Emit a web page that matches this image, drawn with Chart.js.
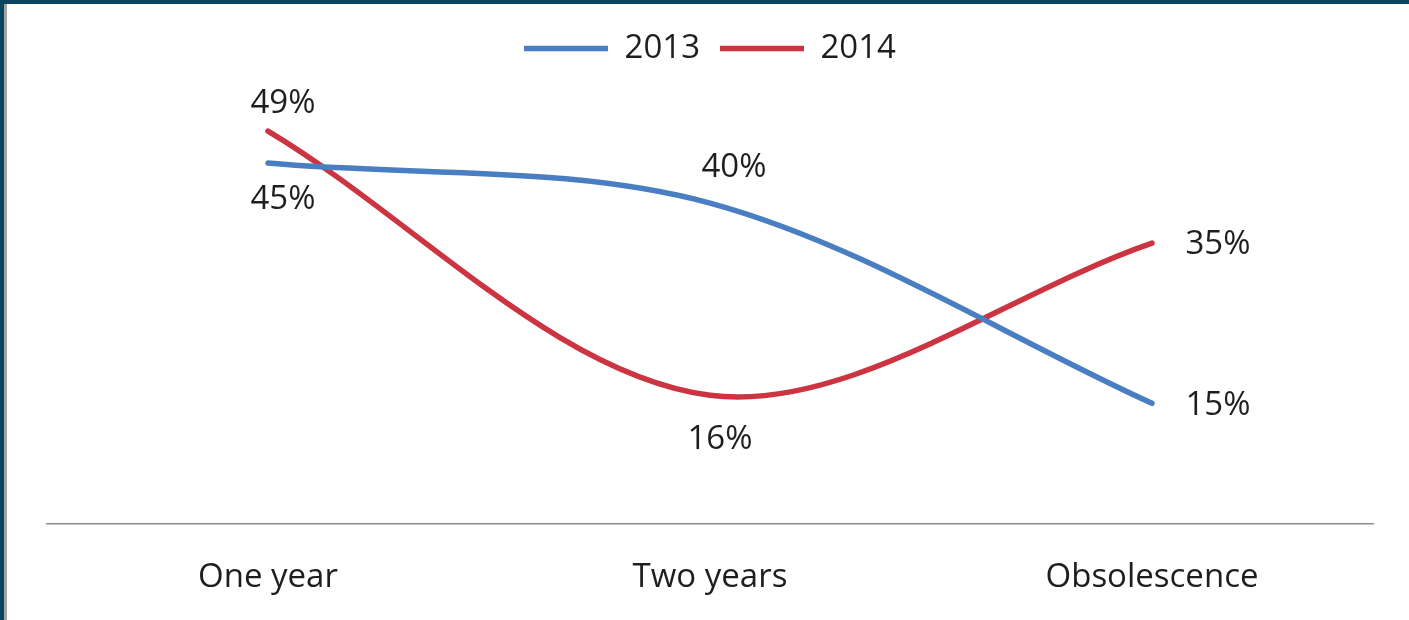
<!DOCTYPE html>
<html>
<head>
<meta charset="utf-8">
<script src="https://cdn.jsdelivr.net/npm/chart.js@4"></script>
<style>
  html, body { margin: 0; padding: 0; background: #fff; overflow: hidden; }
  #frame { width: 1405px; height: 616px; border-top: 4px solid #0b4461; border-left: 4px solid #0b4461; }
  #inner { width: 1402px; height: 616px; border-left: 3px solid #a3a3a3; }
  #wrap { width: 1402px; height: 616px; position: relative; }
</style>
</head>
<body>
<div id="frame"><div id="inner"><div id="wrap"><canvas id="chart"></canvas></div></div></div>
<script>
// categories and series values (percent)
const categories = ['One year', 'Two years', 'Obsolescence'];
const seriesNames = ['2013', '2014'];
const values2013 = [45, 40, 15];
const values2014 = [49, 16, 35];

// where each value label sits, relative to its point (px)
const labelOffsets = [
  [[15, 37], [24, -36], [66, 2]],
  [[15, -27], [10, 44], [66, 1]]
];

const FONT = "'Open Sans', sans-serif";
const el = id => document.getElementById(id);

// draws the % labels next to the points
const valueLabels = {
  id: 'valueLabels',
  afterDatasetsDraw(chart) {
    const ctx = chart.ctx;
    ctx.save();
    ctx.font = `33px ${FONT}`;
    ctx.fillStyle = '#1e1e1e';
    ctx.textAlign = 'center';
    ctx.textBaseline = 'middle';
    chart.data.datasets.forEach((ds, i) => {
      chart.getDatasetMeta(i).data.forEach((pt, j) => {
        const [dx, dy] = labelOffsets[i][j];
        ctx.fillText(ds.data[j] + '%', pt.x + dx, pt.y + dy);
      });
    });
    ctx.restore();
  }
};

new Chart(el('chart'), {
  type: 'line',
  data: {
    labels: categories,
    datasets: [
      { label: seriesNames[0], data: values2013, borderColor: '#4a7ec2', backgroundColor: '#4a7ec2', borderWidth: 5.5, borderCapStyle: 'round', tension: 0.33, pointRadius: 0, clip: false },
      { label: seriesNames[1], data: values2014, borderColor: '#cc3442', backgroundColor: '#cc3442', borderWidth: 5.5, borderCapStyle: 'round', tension: 0.33, pointRadius: 0, clip: false }
    ]
  },
  options: {
    responsive: true, maintainAspectRatio: false, animation: false,
    layout: { padding: { left: 40, right: 36, top: 8, bottom: -11 } },
    plugins: {
      tooltip: { enabled: false },
      legend: {
        position: 'top',
        labels: { usePointStyle: true, pointStyle: 'line', pointStyleWidth: 84, padding: 20, color: '#1e1e1e', font: { family: FONT, size: 33 } }
      }
    },
    scales: {
      x: {
        offset: true,
        grid: { display: false, drawTicks: false },
        border: { display: true, color: '#8c8c8c', width: 1.5 },
        ticks: { padding: 34, color: '#1e1e1e', font: { family: FONT, size: 33 } }
      },
      y: { display: false, min: 0, max: 56 }
    }
  },
  plugins: [valueLabels]
});
</script>
</body>
</html>
